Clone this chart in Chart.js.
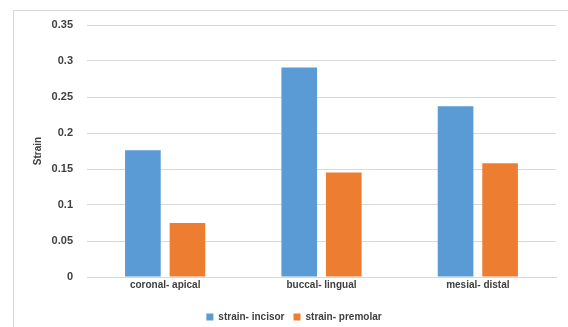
<!DOCTYPE html>
<html>
<head>
<meta charset="utf-8">
<script src="https://cdn.jsdelivr.net/npm/chart.js@4/dist/chart.umd.min.js"></script>
<style>
  html, body { margin: 0; padding: 0; background: #fff; }
  #wrap { position: relative; width: 568px; height: 327px; }
  #frame { position: absolute; left: 13px; top: 10px; right: 0; bottom: -2px;
           border-top: 1px solid #d9d9d9; border-left: 1px solid #d9d9d9; pointer-events: none; }
  canvas { position: absolute; left: 0; top: 0; }
</style>
</head>
<body>
<div id="wrap">
  <canvas id="c" width="568" height="327"></canvas>
  <div id="frame"></div>
</div>
<script>
// Strain measured along each direction, for the incisor and the premolar
const categories = ['coronal- apical', 'buccal- lingual', 'mesial- distal'];
const incisorStrain = [0.176, 0.291, 0.237];
const premolarStrain = [0.075, 0.145, 0.158];
const seriesNames = ['strain- incisor', 'strain- premolar'];
const yTicks = [0, 0.05, 0.1, 0.15, 0.2, 0.25, 0.3, 0.35];

const textColor = '#404040';
const fontFamily = '"Liberation Sans", Arial, sans-serif';

new Chart(document.getElementById('c'), {
  type: 'bar',
  data: {
    labels: categories,
    datasets: [
      { label: seriesNames[0], data: incisorStrain, backgroundColor: '#5b9bd5',
        categoryPercentage: 0.57, barPercentage: 0.8 },
      { label: seriesNames[1], data: premolarStrain, backgroundColor: '#ed7d31',
        categoryPercentage: 0.57, barPercentage: 0.8 }
    ]
  },
  options: {
    responsive: false,
    animation: false,
    layout: { padding: { left: 32, right: 12, top: 25, bottom: -5 } },
    plugins: {
      legend: {
        position: 'bottom',
        labels: {
          color: textColor,
          font: { family: fontFamily, size: 10, weight: 'bold' },
          boxWidth: 7, boxHeight: 7, padding: 9
        }
      },
      tooltip: { enabled: false }
    },
    scales: {
      x: {
        grid: { display: false, drawTicks: false },
        border: { color: '#d9d9d9' },
        afterFit: (axis) => { axis.height = 26; },
        ticks: {
          color: textColor, padding: 2,
          font: { family: fontFamily, size: 10, weight: 'bold' }
        }
      },
      y: {
        min: 0, max: 0.35,
        afterBuildTicks: (axis) => { axis.ticks = yTicks.map(v => ({ value: v })); },
        afterFit: (axis) => { axis.width = 55; },
        grid: { color: '#d9d9d9', drawTicks: false },
        border: { display: false },
        ticks: {
          color: textColor, padding: 14,
          font: { family: fontFamily, size: 11, weight: 'bold' },
          callback: (v) => String(Math.round(v * 100) / 100)
        },
        title: {
          display: true, text: 'Strain', color: textColor, padding: 0,
          font: { family: fontFamily, size: 10, weight: 'bold' }
        }
      }
    }
  }
});
</script>
</body>
</html>
